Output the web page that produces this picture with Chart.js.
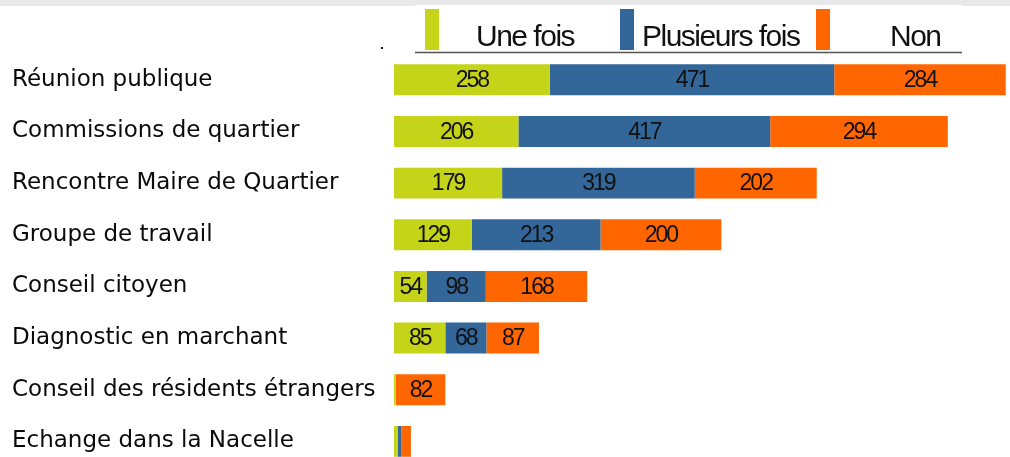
<!DOCTYPE html>
<html><head><meta charset="utf-8">
<script src="https://cdn.jsdelivr.net/npm/chart.js@4/dist/chart.umd.min.js"></script>
<style>
html,body{margin:0;padding:0;background:#fff;overflow:hidden;width:1010px;height:457px}
#wrap{position:relative;width:1010px;height:481px}
canvas{display:block}
</style></head><body>
<div id="wrap"><canvas id="c" width="1010" height="481"></canvas></div>
<script>
const categories = ['Réunion publique','Commissions de quartier','Rencontre Maire de Quartier','Groupe de travail','Conseil citoyen','Diagnostic en marchant','Conseil des résidents étrangers','Echange dans la Nacelle'];
const seriesNames = ['Une fois','Plusieurs fois','Non'];
const uneFois = [258,206,179,129,54,85,3,6];
const plusieursFois = [471,417,319,213,98,68,0,6];
const non = [284,294,202,200,168,87,82,16];
const seriesColors = ['#c5d419','#336699','#ff6600'];
const xMax = 1020;

const labelPlugin = {
  id:'segLabels',
  afterDatasetsDraw(chart){
    const ctx = chart.ctx;
    ctx.save();
    ctx.fillStyle = '#111';
    ctx.font = '23px "Liberation Sans", Arial, sans-serif';
    try{ ctx.letterSpacing = '-2px'; }catch(e){}
    ctx.textAlign = 'center';
    ctx.textBaseline = 'middle';
    chart.data.datasets.forEach((ds,di)=>{
      const meta = chart.getDatasetMeta(di);
      meta.data.forEach((bar,i)=>{
        const v = ds.data[i];
        if (v < 30) return;
        const cx = (bar.x + bar.base)/2;
        ctx.fillText(String(v), cx, bar.y + 1);
      });
    });
    ctx.restore();
  }
};

const legendPlugin = {
  id:'customLegend',
  afterDraw(chart){
    const ctx = chart.ctx;
    ctx.save();
    ctx.fillStyle = '#e8e8e8';
    ctx.fillRect(0,0,1010,6);
    ctx.fillStyle = '#fff';
    ctx.fillRect(415,5,547,2);
    ctx.strokeStyle = '#555';
    ctx.lineWidth = 1.5;
    ctx.beginPath(); ctx.moveTo(415,52.5); ctx.lineTo(962,52.5); ctx.stroke();
    ctx.fillStyle = '#111';
    ctx.fillRect(381,47,2,2);
    const rectX = [425,620,816];
    const textX = [476,642,890];
    ctx.font = '30px "Liberation Sans", Arial, sans-serif';
    try{ ctx.letterSpacing = '-1.5px'; }catch(e){}
    ctx.textBaseline = 'alphabetic';
    ctx.textAlign = 'left';
    seriesNames.forEach((n,i)=>{
      ctx.fillStyle = seriesColors[i];
      ctx.fillRect(rectX[i], 9, 14, 41);
      ctx.fillStyle = '#111';
      ctx.fillText(n, textX[i], 46);
    });
    ctx.restore();
  }
};

new Chart(document.getElementById('c'), {
  type:'bar',
  data:{
    labels:categories,
    datasets:[
      {label:seriesNames[0], data:uneFois, backgroundColor:seriesColors[0]},
      {label:seriesNames[1], data:plusieursFois, backgroundColor:seriesColors[1]},
      {label:seriesNames[2], data:non, backgroundColor:seriesColors[2]}
    ]
  },
  options:{
    indexAxis:'y',
    responsive:false,
    animation:false,
    devicePixelRatio:1,
    layout:{padding:{left:12,right:0,top:54,bottom:0}},
    datasets:{bar:{barPercentage:0.6,categoryPercentage:1,borderWidth:0}},
    plugins:{legend:{display:false},tooltip:{enabled:false}},
    scales:{
      x:{stacked:true,display:false,min:0,max:xMax},
      y:{stacked:true,
        grid:{display:false,drawTicks:false},
        border:{display:false},
        afterFit(s){ s.width = 382; },
        ticks:{crossAlign:'far',padding:0,color:'#0a0a0a',
          font:{family:'"DejaVu Sans"',size:23,weight:'normal'}}
      }
    }
  },
  plugins:[labelPlugin,legendPlugin]
});
</script>
</body></html>
